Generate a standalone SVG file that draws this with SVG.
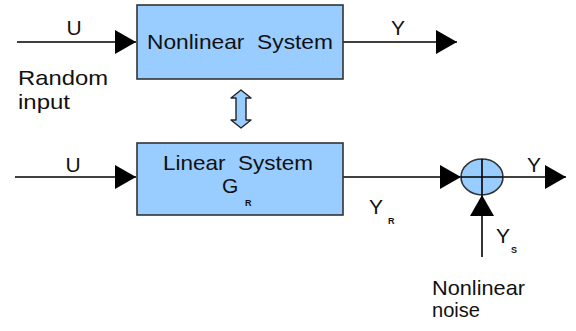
<svg xmlns="http://www.w3.org/2000/svg" width="576" height="331" viewBox="0 0 576 331">
  <defs>
    <marker id="head" markerWidth="21" markerHeight="24" refX="21" refY="12" orient="auto" markerUnits="userSpaceOnUse">
      <path d="M0,0 L21,12 L0,24 Z" fill="#000"/>
    </marker>
  </defs>
  <style>
    .box { fill: #99ccff; stroke: #333; stroke-width: 1.6; }
    .wire { stroke: #000; stroke-width: 1.6; fill: none; }
    .lbl { font-family: "Liberation Sans", Arial, sans-serif; font-size: 21px; fill: #111; }
    .sym { font-family: "Liberation Sans", Arial, sans-serif; font-size: 21px; fill: #111; }
    .sub { font-family: "Liberation Sans", Arial, sans-serif; font-size: 9px; font-weight: bold; fill: #111; }
  </style>

  <g id="connectors">
    <line class="wire" x1="17" y1="42" x2="136" y2="42" marker-end="url(#head)"/>
    <line class="wire" x1="343" y1="42" x2="457" y2="42" marker-end="url(#head)"/>
    <line class="wire" x1="15" y1="177" x2="136" y2="177" marker-end="url(#head)"/>
    <line class="wire" x1="343" y1="177" x2="461" y2="177" marker-end="url(#head)"/>
    <line class="wire" x1="503" y1="177" x2="566" y2="177" marker-end="url(#head)"/>
    <line class="wire" x1="482" y1="257" x2="482" y2="195" marker-end="url(#head)"/>
  </g>

  <g id="nonlinear-system">
    <rect class="box" x="137" y="5" width="206" height="74"/>
    <text class="lbl" x="147" y="49" textLength="186" lengthAdjust="spacingAndGlyphs" xml:space="preserve">Nonlinear  System</text>
  </g>

  <g id="equivalence">
    <path d="M241,90 L251,98 L246,98 L246,120 L251,120 L241,128 L231,120 L236,120 L236,98 L231,98 Z" fill="#99ccff" stroke="#222" stroke-width="1.4" stroke-linejoin="round"/>
  </g>

  <g id="linear-system">
    <rect class="box" x="137" y="143" width="206" height="72"/>
    <text class="lbl" x="163" y="170" textLength="150" lengthAdjust="spacingAndGlyphs" xml:space="preserve">Linear  System</text>
    <text class="sym" x="222" y="193">G</text>
    <text class="sub" x="245" y="206">R</text>
  </g>

  <g id="summing-junction">
    <ellipse cx="482" cy="177" rx="21" ry="18" fill="#99ccff" stroke="#333" stroke-width="1.6"/>
    <line class="wire" x1="461" y1="177" x2="503" y2="177"/>
    <line class="wire" x1="482" y1="159" x2="482" y2="195"/>
  </g>

  <g id="labels">
    <text class="sym" x="74" y="35" text-anchor="middle">U</text>
    <text class="sym" x="398" y="35" text-anchor="middle">Y</text>
    <text class="lbl" x="18" y="85" textLength="90" lengthAdjust="spacingAndGlyphs">Random</text>
    <text class="lbl" x="18" y="109" textLength="52" lengthAdjust="spacingAndGlyphs">input</text>
    <text class="sym" x="73" y="172" text-anchor="middle">U</text>
    <text class="sym" x="534" y="172" text-anchor="middle">Y</text>
    <text class="sym" x="376" y="214" text-anchor="middle">Y</text>
    <text class="sub" x="388" y="224">R</text>
    <text class="sym" x="503" y="243" text-anchor="middle">Y</text>
    <text class="sub" x="511" y="253">S</text>
    <text class="lbl" x="432" y="295" textLength="93" lengthAdjust="spacingAndGlyphs">Nonlinear</text>
    <text class="lbl" x="432" y="317" textLength="48" lengthAdjust="spacingAndGlyphs">noise</text>
  </g>
</svg>
